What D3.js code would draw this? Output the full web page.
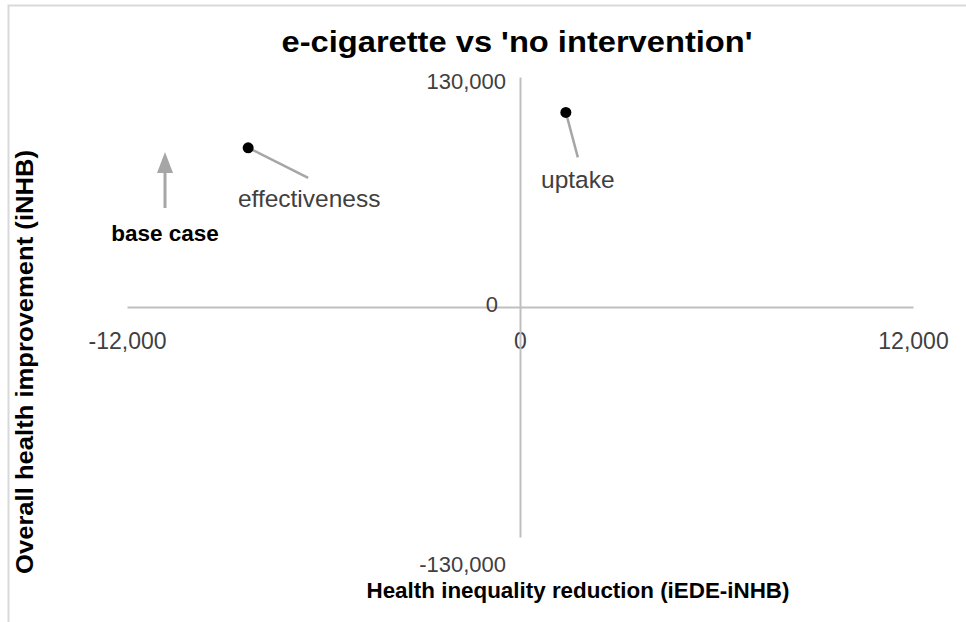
<!DOCTYPE html>
<html><head><meta charset="utf-8">
<script src="https://cdn.jsdelivr.net/npm/d3@7"></script>
<style>
html,body{margin:0;padding:0;background:#fff;}
svg text{font-family:"Liberation Sans",Arial,sans-serif;}
</style></head>
<body><svg id="c" width="966" height="622"></svg>
<script>
// ---- data ----
const pointNames = ["effectiveness", "uptake"];
const pointX = [-8300, 1400];        // health inequality reduction (iEDE-iNHB)
const pointY = [90000, 110000];      // overall health improvement (iNHB)
const xTicks = [-12000, 0, 12000];
const yTicks = [-130000, 0, 130000];
const baseCaseLabel = "base case";
const title = "e-cigarette vs 'no intervention'";
const xTitle = "Health inequality reduction (iEDE-iNHB)";
const yTitle = "Overall health improvement (iNHB)";

const svg = d3.select("#c");
const fmt = d3.formatLocale({decimal: ".", thousands: ",", grouping: [3], currency: ["", ""], minus: "-"}).format(",");

// outer chart border (partially visible)
svg.append("rect").attr("x", 8.5).attr("y", 5.5).attr("width", 1000).attr("height", 700)
  .attr("fill", "none").attr("stroke", "#d9d9d9").attr("stroke-width", 2);

const x = d3.scaleLinear().domain([-12000, 12000]).range([127, 913]);
const y = d3.scaleLinear().domain([-130000, 130000]).range([537, 77]);

// title
svg.append("text").attr("x", 517).attr("y", 52).attr("text-anchor", "middle")
  .attr("font-weight", "bold").attr("font-size", 29).attr("fill", "#000")
  .attr("textLength", 471).attr("lengthAdjust", "spacingAndGlyphs").text(title);

// horizontal axis line (at y=0)
const gx = svg.append("g").attr("transform", `translate(0,${y(0)})`)
  .call(d3.axisBottom(x).tickValues(xTicks).tickSize(0).tickFormat(fmt));
gx.select(".domain").attr("stroke", "#bfbfbf").attr("stroke-width", 2);
gx.selectAll("text").attr("font-size", 23).attr("fill", "#404040").attr("font-family", "Liberation Sans")
  .attr("dy", 0).attr("y", 42);

// vertical axis line (at x=0)
const gy = svg.append("g").attr("transform", `translate(${x(0)},0)`)
  .call(d3.axisLeft(y).tickValues(yTicks).tickSize(0).tickFormat(fmt));
gy.select(".domain").attr("stroke", "#bfbfbf").attr("stroke-width", 2);
gy.selectAll("text").attr("font-size", 22).attr("fill", "#404040").attr("font-family", "Liberation Sans")
  .attr("x", d => d === 0 ? -22 : -14)
  .attr("dy", d => d === 0 ? "0.2em" : d < 0 ? "1.55em" : "0.35em")
  .attr("transform", d => d > 0 ? "translate(0,4)" : null);

// axis titles
svg.append("text").attr("x", 578).attr("y", 598).attr("text-anchor", "middle")
  .attr("font-weight", "bold").attr("font-size", 21.5).attr("fill", "#000")
  .attr("textLength", 423).attr("lengthAdjust", "spacingAndGlyphs").text(xTitle);
svg.append("text").attr("transform", "translate(33,362) rotate(-90)").attr("text-anchor", "middle")
  .attr("font-weight", "bold").attr("font-size", 23).attr("fill", "#000")
  .attr("textLength", 424).attr("lengthAdjust", "spacingAndGlyphs").text(yTitle);

// base case arrow
const bx = 165;
svg.append("line").attr("x1", bx).attr("x2", bx).attr("y1", 208).attr("y2", 168)
  .attr("stroke", "#a6a6a6").attr("stroke-width", 3);
svg.append("path").attr("d", `M${bx - 8},173 L${bx},152 L${bx + 8},173 Z`).attr("fill", "#a6a6a6");
svg.append("text").attr("x", bx).attr("y", 241).attr("text-anchor", "middle")
  .attr("font-weight", "bold").attr("font-size", 22.5).attr("fill", "#000").text(baseCaseLabel);

// leader lines and labels
const labelOffsets = [[60, 30, 61, 59], [12, 45, 12, 76]]; // [lineDx, lineDy, textDx, textDy]
const pts = pointNames.map((n, i) => ({name: n, x: pointX[i], y: pointY[i], o: labelOffsets[i]}));
svg.selectAll("line.lead").data(pts).join("line").attr("class", "lead")
  .attr("x1", d => x(d.x)).attr("y1", d => y(d.y))
  .attr("x2", d => x(d.x) + d.o[0]).attr("y2", d => y(d.y) + d.o[1])
  .attr("stroke", "#a6a6a6").attr("stroke-width", 2.5);
svg.selectAll("circle.pt").data(pts).join("circle").attr("class", "pt")
  .attr("cx", d => x(d.x)).attr("cy", d => y(d.y)).attr("r", 5.5).attr("fill", "#000");
svg.selectAll("text.lbl").data(pts).join("text").attr("class", "lbl")
  .attr("x", d => x(d.x) + d.o[2]).attr("y", d => y(d.y) + d.o[3])
  .attr("text-anchor", "middle").attr("font-size", 24.5).attr("fill", "#404040").text(d => d.name);
</script></body></html>
